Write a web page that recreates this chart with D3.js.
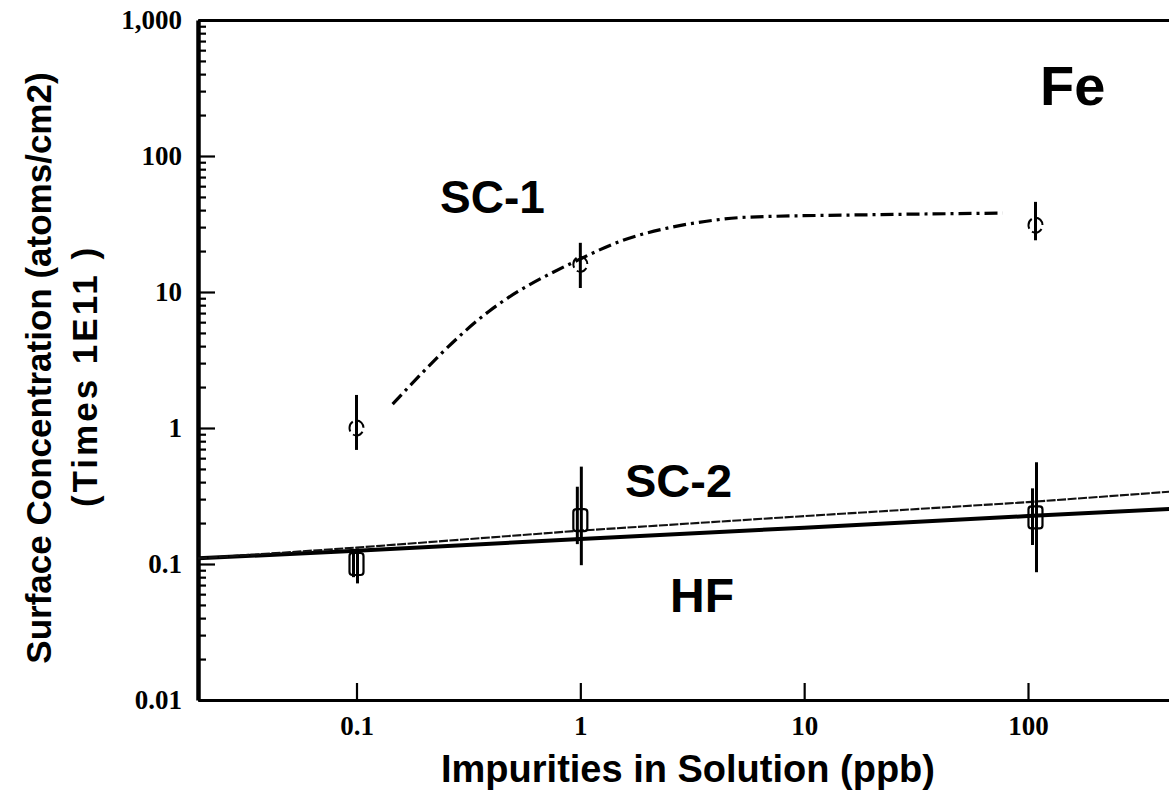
<!DOCTYPE html>
<html><head><meta charset="utf-8">
<script src="https://cdn.jsdelivr.net/npm/d3@7/dist/d3.min.js"></script>
<style>
html,body{margin:0;padding:0;background:#fff;}
svg{display:block;}
</style></head>
<body>
<svg id="chart" width="1169" height="792"></svg>
<script>
// ---------- data ----------
const xTickValues = [0.1, 1, 10, 100];
const xTickLabels = ["0.1", "1", "10", "100"];
const yTickValues = [0.01, 0.1, 1, 10, 100, 1000];
const yTickLabels = ["0.01", "0.1", "1", "10", "100", "1,000"];

// SC-1 fitted curve (dash-dot)
const sc1CurveX = [0.145, 0.39, 1.0, 1.55, 2.45, 3.6, 5.6, 20, 77];
const sc1CurveY = [1.5, 7.2, 17.5, 24, 29.5, 33, 35.5, 37, 38];
// SC-1 measured points with error bars
const sc1PointX = [0.1, 1, 108];
const sc1PointY = [1.0, 16, 31];
const sc1ErrLow = [0.69, 10.7, 24];
const sc1ErrHigh = [1.75, 23, 46];

// SC-2 fitted line (thin)
const sc2LineX = [0.0196, 0.1, 1, 10, 100, 430];
const sc2LineY = [0.11, 0.132, 0.176, 0.225, 0.285, 0.34];
const sc2PointX = [0.1, 1, 108];
const sc2PointY = [0.1, 0.21, 0.22];
const sc2ErrLow = [0.072, 0.098, 0.087];
const sc2ErrHigh = [0.13, 0.52, 0.56];

// HF fitted line (thick)
const hfLineX = [0.0196, 0.1, 1, 10, 100, 430];
const hfLineY = [0.11, 0.125, 0.153, 0.185, 0.225, 0.254];
const hfPointX = [0.1, 1, 108];
const hfPointY = [0.1, 0.2, 0.21];
const hfErrLow = [0.08, 0.14, 0.138];
const hfErrHigh = [0.12, 0.37, 0.36];

const seriesLabels = ["SC-1", "SC-2", "HF"];
const elementLabel = "Fe";
const xTitle = "Impurities in Solution (ppb)";
const yTitle1 = "Surface Concentration (atoms/cm2)";
const yTitle2 = "(Times 1E11 )";

// ---------- layout ----------
const svg = d3.select("#chart");
const X0 = 198, X1 = 1169, Y0 = 700, Y1 = 20;
const xRef = d3.scaleLog().domain([0.1, 100]).range([356.5, 1028]);
const x = d3.scaleLog().domain([xRef.invert(X0), xRef.invert(X1)]).range([X0, X1]);
const y = d3.scaleLog().domain([0.01, 1000]).range([Y0, Y1]);

const sans = "'Liberation Sans', Arial, Helvetica, sans-serif";
const serif = "'Liberation Serif', 'Times New Roman', Times, serif";

svg.append("defs").append("clipPath").attr("id", "plotclip")
  .append("rect").attr("x", X0).attr("y", Y1).attr("width", X1 - X0).attr("height", Y0 - Y1);

// minor y ticks
const minorY = [];
yTickValues.slice(0, -1).forEach(d => { for (let k = 2; k <= 9; k++) minorY.push(d * k); });

const gyMinor = svg.append("g").attr("transform", `translate(${X0},0)`)
  .call(d3.axisLeft(y).tickValues(minorY).tickSize(-8).tickFormat(""));
gyMinor.select(".domain").remove();
gyMinor.selectAll(".tick line").attr("stroke", "#000").attr("stroke-width", 2.2);

const gy = svg.append("g").attr("transform", `translate(${X0},0)`)
  .call(d3.axisLeft(y).tickValues(yTickValues).tickSize(-17).tickPadding(16)
    .tickFormat((d, i) => yTickLabels[i]));
gy.select(".domain").remove();
gy.selectAll(".tick line").attr("stroke", "#000").attr("stroke-width", 2.2);
gy.selectAll(".tick text").attr("font-family", serif).attr("font-weight", "bold")
  .attr("font-size", 27).attr("fill", "#000");

const gx = svg.append("g").attr("transform", `translate(0,${Y0})`)
  .call(d3.axisBottom(x).tickValues(xTickValues).tickSize(-17).tickPadding(16)
    .tickFormat((d, i) => xTickLabels[i]));
gx.select(".domain").remove();
gx.selectAll(".tick line").attr("stroke", "#000").attr("stroke-width", 2.2);
gx.selectAll(".tick text").attr("font-family", serif).attr("font-weight", "bold")
  .attr("font-size", 27).attr("fill", "#000");

// frame lines (left, bottom, top)
const gTop = svg.append("g").attr("transform", `translate(0,${Y1})`)
  .call(d3.axisTop(x).tickValues([]).tickSizeOuter(0));
gTop.select(".domain").attr("stroke", "#000").attr("stroke-width", 3);
const gBot = svg.append("g").attr("transform", `translate(0,${Y0})`)
  .call(d3.axisBottom(x).tickValues([]).tickSizeOuter(0));
gBot.select(".domain").attr("stroke", "#000").attr("stroke-width", 3);
const gLeft = svg.append("g").attr("transform", `translate(${X0},0)`)
  .call(d3.axisLeft(y).tickValues([]).tickSizeOuter(0));
gLeft.select(".domain").attr("stroke", "#000").attr("stroke-width", 4.5);

// ---------- marks ----------
const plot = svg.append("g").attr("clip-path", "url(#plotclip)");
const lineGen = d3.line().x(d => x(d[0])).y(d => y(d[1]));

// HF thick solid line
plot.append("path").datum(hfLineX.map((v, i) => [v, hfLineY[i]]))
  .attr("d", lineGen).attr("fill", "none").attr("stroke", "#000").attr("stroke-width", 4);
// SC-2 thin line
plot.append("path").datum(sc2LineX.map((v, i) => [v, sc2LineY[i]]))
  .attr("d", lineGen).attr("fill", "none").attr("stroke", "#111").attr("stroke-width", 2.1)
  .attr("stroke-dasharray", "9,1.5");
// SC-1 dash-dot curve
plot.append("path").datum(sc1CurveX.map((v, i) => [v, sc1CurveY[i]]))
  .attr("d", d3.line().x(d => x(d[0])).y(d => y(d[1])).curve(d3.curveMonotoneX))
  .attr("fill", "none").attr("stroke", "#000")
  .attr("stroke-width", 3.2).attr("stroke-dasharray", "13,5,3,5");

function errorBars(px, py, lo, hi, marker, dx) {
  const g = plot.append("g");
  const data = px.map((v, i) => ({x: v, y: py[i], lo: lo[i], hi: hi[i]}));
  g.selectAll("line.eb").data(data).join("line").attr("class", "eb")
    .attr("x1", d => x(d.x) + dx).attr("x2", d => x(d.x) + dx)
    .attr("y1", d => y(d.hi)).attr("y2", d => y(d.lo))
    .attr("stroke", "#000").attr("stroke-width", 3);
  if (marker === "ellipse") {
    g.selectAll("ellipse").data(data).join("ellipse")
      .attr("cx", d => x(d.x)).attr("cy", d => y(d.y)).attr("rx", 7).attr("ry", 7.5)
      .attr("fill", "none").attr("stroke", "#000").attr("stroke-width", 2)
      .attr("stroke-dasharray", "0,4,11,4,11,4,11,4");
  } else if (marker === "rect") {
    g.selectAll("rect").data(data).join("rect")
      .attr("x", d => x(d.x) - 7).attr("y", d => y(d.y) - 11).attr("width", 14).attr("height", 22)
      .attr("rx", 3)
      .attr("fill", "none").attr("stroke", "#000").attr("stroke-width", 2.2);
  }
}
errorBars(sc1PointX, sc1PointY, sc1ErrLow, sc1ErrHigh, "ellipse", 0);
errorBars(sc2PointX, sc2PointY, sc2ErrLow, sc2ErrHigh, "rect", 1);
errorBars(hfPointX, hfPointY, hfErrLow, hfErrHigh, "none", -3);

// ---------- texts ----------
function label(txt, xv, yv, size) {
  svg.append("text").attr("x", xv).attr("y", yv).text(txt)
    .attr("font-family", sans).attr("font-weight", "bold").attr("font-size", size)
    .attr("fill", "#000");
}
label(seriesLabels[0], 440, 213, 46);
label(seriesLabels[1], 625, 497, 47);
label(seriesLabels[2], 670, 612, 48);
label(elementLabel, 1040, 105, 56);

svg.append("text").attr("x", 688).attr("y", 782).attr("text-anchor", "middle").text(xTitle)
  .attr("font-family", sans).attr("font-weight", "bold").attr("font-size", 38).attr("fill", "#000");
svg.append("text").attr("transform", "translate(51,368) rotate(-90)").attr("text-anchor", "middle")
  .text(yTitle1).attr("font-family", sans).attr("font-weight", "bold").attr("font-size", 35).attr("fill", "#000");
svg.append("text").attr("transform", "translate(97,376) rotate(-90)").attr("text-anchor", "middle")
  .text(yTitle2).attr("font-family", sans).attr("font-weight", "bold").attr("font-size", 35)
  .attr("letter-spacing", 3).attr("fill", "#000").attr("xml:space", "preserve");
</script>
</body></html>
